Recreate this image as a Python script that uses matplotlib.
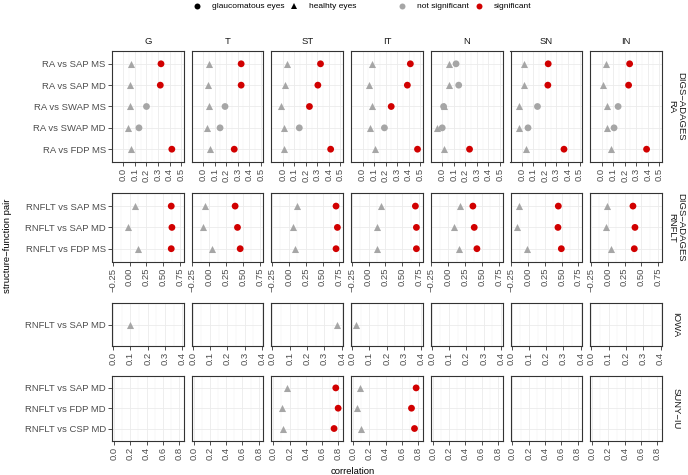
import numpy as np
import matplotlib
matplotlib.use("Agg")
import matplotlib.pyplot as plt
from matplotlib.ticker import FixedLocator
from matplotlib.lines import Line2D

plt.rcParams['font.family'] = ['Liberation Sans', 'DejaVu Sans']

nan = np.nan
regions = ["G", "T", "ST", "IT", "N", "SN", "IN"]

# ---- DIGS-ADAGES RA ----
ra_pairs = ["RA vs SAP MS", "RA vs SAP MD", "RA vs SWAP MS", "RA vs SWAP MD", "RA vs FDP MS"]
ra_glaucoma = {
    "G":  [0.326, 0.320, 0.200, 0.135, 0.420],
    "T":  [0.330, 0.330, 0.190, 0.147, 0.270],
    "ST": [0.327, 0.304, 0.231, 0.143, 0.415],
    "IT": [0.415, 0.389, 0.249, 0.190, 0.477],
    "N":  [0.120, 0.143, 0.012, 0.000, 0.237],
    "SN": [0.228, 0.225, 0.135, 0.053, 0.365],
    "IN": [0.243, 0.234, 0.143, 0.108, 0.390],
}
ra_significant = {
    "G":  [1, 1, 0, 0, 1],
    "T":  [1, 1, 0, 0, 1],
    "ST": [1, 1, 1, 0, 1],
    "IT": [1, 1, 1, 0, 1],
    "N":  [0, 0, 0, 0, 1],
    "SN": [1, 1, 0, 0, 1],
    "IN": [1, 1, 0, 0, 1],
}
ra_healthy = {
    "G":  [0.068, 0.056, 0.059, 0.044, 0.068],
    "T":  [0.050, 0.040, 0.047, 0.030, 0.060],
    "ST": [0.032, 0.018, -0.015, 0.012, 0.009],
    "IT": [0.079, 0.056, 0.079, 0.064, 0.105],
    "N":  [0.058, 0.056, 0.012, -0.044, 0.018],
    "SN": [0.018, 0.018, -0.023, -0.023, 0.035],
    "IN": [0.038, 0.015, 0.050, 0.044, 0.085],
}

# ---- DIGS-ADAGES RNFLT ----
rnflt_pairs = ["RNFLT vs SAP MS", "RNFLT vs SAP MD", "RNFLT vs FDP MS"]
rnflt_glaucoma = {
    "G":  [0.620, 0.630, 0.620],
    "T":  [0.385, 0.420, 0.460],
    "ST": [0.700, 0.720, 0.700],
    "IT": [0.695, 0.710, 0.710],
    "N":  [0.365, 0.385, 0.425],
    "SN": [0.450, 0.445, 0.495],
    "IN": [0.375, 0.405, 0.395],
}
rnflt_significant = {r: [1, 1, 1] for r in regions}
rnflt_healthy = {
    "G":  [0.075, -0.020, 0.120],
    "T":  [-0.060, -0.095, 0.045],
    "ST": [0.120, 0.055, 0.085],
    "IT": [0.190, 0.120, 0.125],
    "N":  [0.180, 0.090, 0.165],
    "SN": [-0.135, -0.170, -0.020],
    "IN": [-0.015, -0.020, 0.045],
}

# ---- IOWA ----
iowa_pairs = ["RNFLT vs SAP MD"]
iowa_glaucoma = {r: [nan] for r in regions}
iowa_significant = {r: [0] for r in regions}
iowa_healthy = {"G": [0.098], "T": [nan], "ST": [0.371], "IT": [0.025],
                "N": [nan], "SN": [nan], "IN": [nan]}

# ---- SUNY-IU ----
suny_pairs = ["RNFLT vs SAP MD", "RNFLT vs FDP MD", "RNFLT vs CSP MD"]
suny_glaucoma = {r: [nan, nan, nan] for r in regions}
suny_glaucoma["ST"] = [0.767, 0.796, 0.746]
suny_glaucoma["IT"] = [0.775, 0.718, 0.755]
suny_significant = {r: [1, 1, 1] for r in regions}
suny_healthy = {r: [nan, nan, nan] for r in regions}
suny_healthy["ST"] = [0.164, 0.110, 0.123]
suny_healthy["IT"] = [0.082, 0.049, 0.094]

groups = [
    ("DIGS\u2212ADAGES\nRA", ra_pairs, ra_glaucoma, ra_healthy, ra_significant),
    ("DIGS\u2212ADAGES\nRNFLT", rnflt_pairs, rnflt_glaucoma, rnflt_healthy, rnflt_significant),
    ("IOWA", iowa_pairs, iowa_glaucoma, iowa_healthy, iowa_significant),
    ("SUNY\u2212IU", suny_pairs, suny_glaucoma, suny_healthy, suny_significant),
]

x_limits = [(-0.099, 0.523), (-0.26, 0.805), (-0.006, 0.408), (-0.024, 0.857)]
x_ticks = [[0.0, 0.1, 0.2, 0.3, 0.4, 0.5],
           [-0.25, 0.0, 0.25, 0.5, 0.75],
           [0.0, 0.1, 0.2, 0.3, 0.4],
           [0.0, 0.2, 0.4, 0.6, 0.8]]
x_ticklabels = [["0.0", "0.1", "0.2", "0.3", "0.4", "0.5"],
                ["\u22120.25", "0.00", "0.25", "0.50", "0.75"],
                ["0.0", "0.1", "0.2", "0.3", "0.4"],
                ["0.0", "0.2", "0.4", "0.6", "0.8"]]

W, H = 688, 475
fig = plt.figure(figsize=(W / 100, H / 100), dpi=100)

def rect(l, t, r, b):
    return [l / W, 1 - b / H, (r - l) / W, (b - t) / H]

col_w = 71.7
col_gap = 8.0
col_left = [112 + i * (col_w + col_gap) for i in range(7)]
row_tb = [(51, 162), (193.3, 261.5), (303.3, 345.7), (375.7, 440.7)]

GREY = "#A6A6A6"
RED = "#D10000"
TXT = "#4D4D4D"
EDGE = "#333333"
fs = 6.8

for gi, (label, pairs, glau, healthy, sig) in enumerate(groups):
    t, b = row_tb[gi]
    n = len(pairs)
    ypos = np.arange(n)
    for ci, reg in enumerate(regions):
        l = col_left[ci]
        ax = fig.add_axes(rect(l, t, l + col_w, b))
        ax.set_xlim(*x_limits[gi])
        if n == 1:
            ax.set_ylim(1.0, -1.0)
        else:
            ax.set_ylim(n - 1 + 0.6, -0.6)
        ticks = x_ticks[gi]
        ax.xaxis.set_major_locator(FixedLocator(ticks))
        step = ticks[1] - ticks[0]
        minors = [v + step / 2 for v in ticks[:-1]]
        ax.xaxis.set_minor_locator(FixedLocator(minors))
        ax.set_xticklabels(x_ticklabels[gi], rotation=90, fontsize=fs, color=TXT)
        ax.set_yticks(ypos)
        ax.set_axisbelow(True)
        ax.grid(which='major', color='#EBEBEB', lw=0.6)
        ax.grid(which='minor', axis='x', color='#F2F2F2', lw=0.35)
        ax.tick_params(axis='x', which='major', length=3, width=0.6, color=EDGE, pad=1.5)
        ax.tick_params(axis='x', which='minor', length=0)
        if ci == 0:
            ax.set_yticklabels(pairs, fontsize=fs, color=TXT)
            ax.tick_params(axis='y', length=3, width=0.6, color=EDGE, pad=1.5)
        else:
            ax.set_yticklabels([])
            ax.tick_params(axis='y', length=0)
        for s in ax.spines.values():
            s.set_color(EDGE)
            s.set_linewidth(0.8)
        hv = np.array(healthy[reg], dtype=float)
        gv = np.array(glau[reg], dtype=float)
        sv = np.array(sig[reg], dtype=bool)
        ax.scatter(hv, ypos, marker='^', s=26, color=GREY, linewidths=0, zorder=3)
        cols = [RED if s else GREY for s in sv]
        ax.scatter(gv, ypos, marker='o', s=24, c=cols, linewidths=0, zorder=4)
        if gi == 0:
            ax.text(0.5, 1.0 + 5 / (b - t), reg, transform=ax.transAxes,
                    ha='center', va='bottom', fontsize=fs, color='#1A1A1A')
    # strip label on right
    fig.text(676 / W, 1 - ((t + b) / 2) / H, label, rotation=-90, ha='center',
             va='center', fontsize=fs, color='#1A1A1A', linespacing=0.95,
             multialignment='center')

# axis titles
fig.text(8 / W, 1 - 246 / H, "structure\u2212function pair", rotation=90,
         ha='center', va='center', fontsize=fs, color='black')
fig.text(353 / W, 1 - 471 / H, "correlation", ha='center', va='center',
         fontsize=fs, color='black')

# legend at top
ly = 1 - 6 / H
leg_fs = 6.0
fig.add_artist(Line2D([197 / W], [ly], marker='o', color='black', markersize=4.3,
                      markeredgewidth=0, linestyle='none'))
fig.text(284 / W, ly, "glaucomatous eyes", ha='right', va='center', fontsize=leg_fs)
fig.add_artist(Line2D([294 / W], [ly], marker='^', color='black', markersize=4.6,
                      markeredgewidth=0, linestyle='none'))
fig.text(309 / W, ly, "healhty eyes", ha='left', va='center', fontsize=leg_fs)
fig.add_artist(Line2D([402 / W], [ly], marker='o', color=GREY, markersize=4.3,
                      markeredgewidth=0, linestyle='none'))
fig.text(417 / W, ly, "not significant", ha='left', va='center', fontsize=leg_fs)
fig.add_artist(Line2D([479 / W], [ly], marker='o', color=RED, markersize=4.3,
                      markeredgewidth=0, linestyle='none'))
fig.text(494 / W, ly, "significant", ha='left', va='center', fontsize=leg_fs)

fig.savefig("out.png", dpi=100)
